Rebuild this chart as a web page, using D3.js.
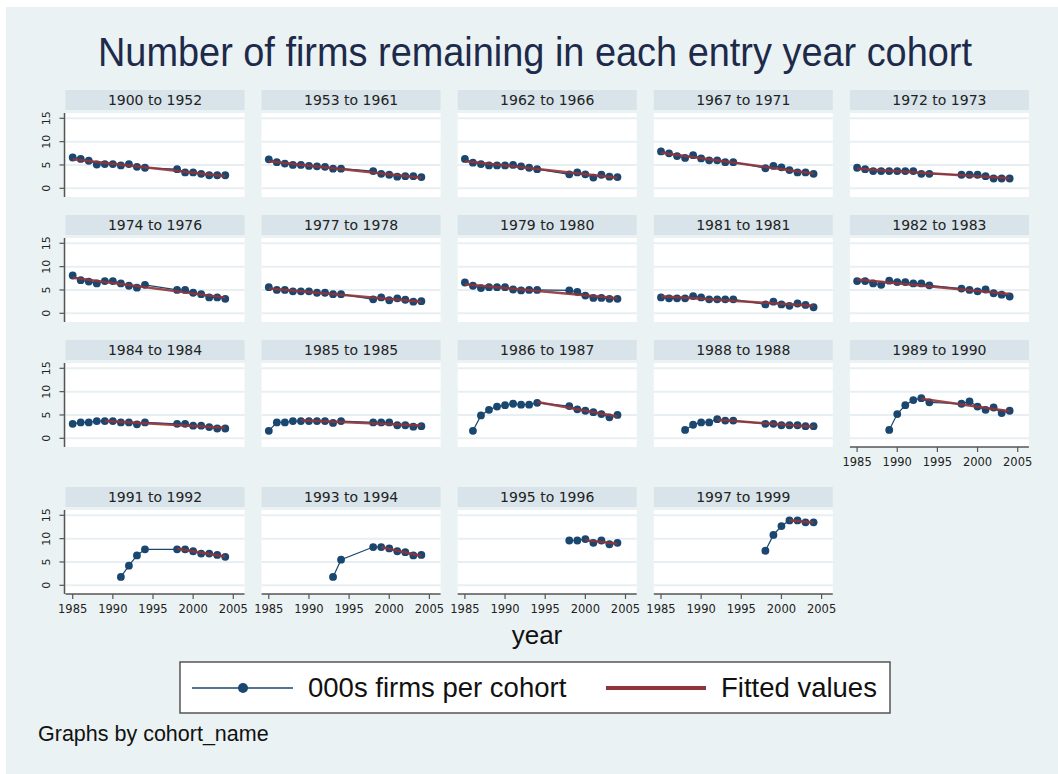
<!DOCTYPE html>
<meta charset="utf-8">
<style>
body { margin: 0; background: #fff; }
text { font-family: "Liberation Sans", Arial, sans-serif; }
.small { font-family: "DejaVu Sans", Verdana, sans-serif; }
</style>
<svg width="1058" height="774"></svg>
<script src="https://cdn.jsdelivr.net/npm/d3@7"></script>
<script>

// data (thousands of firms still alive)
var years = [1985, 1986, 1987, 1988, 1989, 1990, 1991, 1992, 1993, 1994,
             1998, 1999, 2000, 2001, 2002, 2003, 2004];

var cohorts = ["1900 to 1952", "1953 to 1961", "1962 to 1966", "1967 to 1971", "1972 to 1973",
               "1974 to 1976", "1977 to 1978", "1979 to 1980", "1981 to 1981", "1982 to 1983",
               "1984 to 1984", "1985 to 1985", "1986 to 1987", "1988 to 1988", "1989 to 1990",
               "1991 to 1992", "1993 to 1994", "1995 to 1996", "1997 to 1999"];

var N = null;
var firms = [
  [6.6, 6.3, 5.9, 5.1, 5.2, 5.2, 4.9, 5.2, 4.6, 4.4, 4.1, 3.4, 3.4, 3.1, 2.8, 2.8, 2.8],
  [6.2, 5.6, 5.3, 5.0, 5.0, 4.8, 4.7, 4.6, 4.2, 4.2, 3.7, 3.1, 2.9, 2.5, 2.6, 2.6, 2.4],
  [6.3, 5.5, 5.2, 4.9, 4.9, 4.9, 5.0, 4.7, 4.4, 4.1, 3.0, 3.4, 3.0, 2.3, 2.9, 2.5, 2.4],
  [7.9, 7.5, 6.9, 6.5, 7.1, 6.4, 6.0, 6.0, 5.6, 5.6, 4.3, 4.8, 4.5, 3.9, 3.4, 3.4, 3.1],
  [4.4, 4.1, 3.7, 3.7, 3.7, 3.7, 3.7, 3.7, 3.1, 3.1, 2.9, 2.9, 2.9, 2.6, 2.1, 2.1, 2.1],
  [8.1, 7.1, 6.8, 6.4, 6.9, 6.9, 6.4, 5.9, 5.5, 6.1, 5.0, 5.0, 4.4, 4.1, 3.4, 3.4, 3.1],
  [5.6, 5.0, 5.0, 4.7, 4.7, 4.7, 4.4, 4.4, 4.1, 4.1, 3.0, 3.4, 2.8, 3.2, 2.9, 2.5, 2.6],
  [6.6, 5.9, 5.4, 5.6, 5.6, 5.6, 5.1, 4.9, 5.0, 5.0, 4.9, 4.6, 3.8, 3.3, 3.3, 3.1, 3.1],
  [3.4, 3.2, 3.2, 3.2, 3.7, 3.4, 3.0, 3.0, 3.0, 3.0, 1.9, 2.5, 1.9, 1.6, 2.1, 1.8, 1.3],
  [6.9, 6.9, 6.4, 6.1, 7.0, 6.7, 6.7, 6.4, 6.4, 6.0, 5.3, 5.0, 4.7, 5.1, 4.3, 4.0, 3.6],
  [3.1, 3.4, 3.4, 3.7, 3.7, 3.7, 3.4, 3.4, 3.0, 3.4, 3.1, 3.1, 2.7, 2.7, 2.4, 2.1, 2.1],
  [1.6, 3.4, 3.4, 3.7, 3.7, 3.7, 3.7, 3.7, 3.3, 3.7, 3.4, 3.4, 3.4, 2.8, 2.8, 2.5, 2.6],
  [N, 1.6, 4.9, 6.1, 6.8, 7.1, 7.4, 7.2, 7.2, 7.6, 6.9, 6.2, 5.9, 5.6, 5.2, 4.5, 5.0],
  [N, N, N, 1.8, 2.9, 3.4, 3.4, 4.1, 3.8, 3.8, 3.1, 3.1, 2.8, 2.8, 2.8, 2.6, 2.6],
  [N, N, N, N, 1.8, 5.2, 7.1, 8.2, 8.6, 7.7, 7.4, 7.9, 6.8, 6.1, 6.6, 5.4, 5.9],
  [N, N, N, N, N, N, 1.8, 4.2, 6.4, 7.7, 7.7, 7.7, 7.3, 6.8, 6.8, 6.5, 6.1],
  [N, N, N, N, N, N, N, N, 1.8, 5.5, 8.2, 8.2, 7.9, 7.3, 7.1, 6.4, 6.5],
  [N, N, N, N, N, N, N, N, N, N, 9.6, 9.6, 9.9, 9.1, 9.6, 8.8, 9.1],
  [N, N, N, N, N, N, N, N, N, N, 7.4, 10.8, 12.7, 13.9, 13.9, 13.5, 13.5]
];

// first year used for the fitted line
var fitFrom = [1985, 1985, 1985, 1985, 1985, 1985, 1985, 1985, 1985, 1985,
               1989, 1989, 1994, 1992, 1993, 1998, 1999, 2000, 2001];

var yTicks = [0, 5, 10, 15];
var xTicks = [1985, 1990, 1995, 2000, 2005];

var navy = "#1a476f", maroon = "#90353b";

var svg = d3.select("svg");

svg.append("rect")
    .attr("x", 6).attr("y", 7)
    .attr("width", 1052).attr("height", 767)
    .attr("fill", "#eaf2f3");

svg.append("text")
    .attr("x", 535).attr("y", 66)
    .attr("text-anchor", "middle")
    .attr("font-size", 40)
    .attr("fill", "#1e2a4a")
    .attr("textLength", 874)
    .attr("lengthAdjust", "spacingAndGlyphs")
    .text("Number of firms remaining in each entry year cohort");

var rowTops = [90, 215, 340, 487];
var colW = 179, colStep = 196.1, left0 = 65.5;

function fit(xs, ys) {
  var mx = d3.mean(xs), my = d3.mean(ys);
  var sxy = d3.sum(xs, function(x, i) { return (x - mx) * (ys[i] - my); });
  var sxx = d3.sum(xs, function(x) { return (x - mx) * (x - mx); });
  var b = sxy / sxx;
  return function(x) { return my + b * (x - mx); };
}

cohorts.forEach(function(name, k) {
  var row = Math.floor(k / 5), col = k % 5;
  var left = left0 + col * colStep, top = rowTops[row];
  var g = svg.append("g");

  var x = d3.scaleLinear().domain([1985, 2005]).range([left + 7.2, left + 167.8]);
  var y = d3.scaleLinear().domain([0, 15]).range([top + 98.3, top + 28.3]);
  var plotTop = top + 23, plotBottom = top + 107;

  g.append("rect")
      .attr("x", left).attr("y", top)
      .attr("width", colW).attr("height", 20)
      .attr("fill", "#d8e4ea");
  g.append("text")
      .attr("class", "small")
      .attr("x", left + colW / 2).attr("y", top + 15)
      .attr("text-anchor", "middle")
      .attr("font-size", 14)
      .attr("fill", "#222")
      .text(name);

  g.append("rect")
      .attr("x", left).attr("y", plotTop)
      .attr("width", colW).attr("height", plotBottom - plotTop)
      .attr("fill", "#fff");

  g.selectAll(".grid")
    .data(yTicks)
    .enter().append("line")
      .attr("x1", left).attr("x2", left + colW)
      .attr("y1", function(d) { return y(d); })
      .attr("y2", function(d) { return y(d); })
      .attr("stroke", "#e8eff2")
      .attr("stroke-width", 2);

  var pts = years.map(function(yr, i) { return {year: yr, v: firms[k][i]}; })
      .filter(function(d) { return d.v !== null; });

  g.append("path")
      .datum(pts)
      .attr("fill", "none")
      .attr("stroke", navy)
      .attr("stroke-width", 1.2)
      .attr("d", d3.line().x(function(d) { return x(d.year); }).y(function(d) { return y(d.v); }));

  g.selectAll(".dot")
    .data(pts)
    .enter().append("circle")
      .attr("cx", function(d) { return x(d.year); })
      .attr("cy", function(d) { return y(d.v); })
      .attr("r", 3.9)
      .attr("fill", navy);

  var fp = pts.filter(function(d) { return d.year >= fitFrom[k]; });
  var f = fit(fp.map(function(d) { return d.year; }), fp.map(function(d) { return d.v; }));
  var x0 = fp[0].year, x1 = fp[fp.length - 1].year;
  g.append("line")
      .attr("x1", x(x0)).attr("y1", y(f(x0)))
      .attr("x2", x(x1)).attr("y2", y(f(x1)))
      .attr("stroke", maroon)
      .attr("stroke-width", 2.5)
      .attr("opacity", 0.9);

  if (col === 0) {
    g.append("line")
        .attr("x1", left - 1).attr("x2", left - 1)
        .attr("y1", plotTop).attr("y2", plotBottom)
        .attr("stroke", "#555").attr("stroke-width", 1.5);
    g.selectAll(".yt")
      .data(yTicks)
      .enter().append("line")
        .attr("x1", left - 6).attr("x2", left - 1)
        .attr("y1", function(d) { return y(d); })
        .attr("y2", function(d) { return y(d); })
        .attr("stroke", "#555").attr("stroke-width", 1.2);
    g.selectAll(".yl")
      .data(yTicks)
      .enter().append("text")
        .attr("class", "small")
        .attr("transform", function(d) { return "translate(" + (left - 16) + "," + y(d) + ") rotate(-90)"; })
        .attr("text-anchor", "middle")
        .attr("font-size", 11)
        .attr("fill", "#222")
        .text(function(d) { return d; });
  }

  if (row === 3 || k === 14) {
    g.append("line")
        .attr("x1", left).attr("x2", left + colW)
        .attr("y1", plotBottom).attr("y2", plotBottom)
        .attr("stroke", "#555").attr("stroke-width", 1.5);
    g.selectAll(".xt")
      .data(xTicks)
      .enter().append("line")
        .attr("x1", function(d) { return x(d); })
        .attr("x2", function(d) { return x(d); })
        .attr("y1", plotBottom).attr("y2", plotBottom + 5)
        .attr("stroke", "#555").attr("stroke-width", 1.2);
    g.selectAll(".xl")
      .data(xTicks)
      .enter().append("text")
        .attr("class", "small")
        .attr("x", function(d) { return x(d); })
        .attr("y", plotBottom + 19)
        .attr("text-anchor", "middle")
        .attr("font-size", 11.5)
        .attr("fill", "#222")
        .text(function(d) { return d; });
  }
});

svg.append("text")
    .attr("x", 537).attr("y", 644)
    .attr("text-anchor", "middle")
    .attr("font-size", 26)
    .attr("fill", "#111")
    .text("year");

// legend
var lg = svg.append("g");
lg.append("rect")
    .attr("x", 180).attr("y", 662)
    .attr("width", 710).attr("height", 51)
    .attr("fill", "#fff")
    .attr("stroke", "#555").attr("stroke-width", 1.5);
lg.append("line")
    .attr("x1", 192).attr("x2", 293).attr("y1", 688).attr("y2", 688)
    .attr("stroke", navy).attr("stroke-width", 1.5);
lg.append("circle")
    .attr("cx", 243).attr("cy", 688).attr("r", 5)
    .attr("fill", navy);
lg.append("text")
    .attr("x", 308).attr("y", 697)
    .attr("font-size", 27.5)
    .attr("fill", "#111")
    .text("000s firms per cohort");
lg.append("line")
    .attr("x1", 606).attr("x2", 706).attr("y1", 688).attr("y2", 688)
    .attr("stroke", maroon).attr("stroke-width", 4);
lg.append("text")
    .attr("x", 721).attr("y", 697)
    .attr("font-size", 27.5)
    .attr("fill", "#111")
    .text("Fitted values");

svg.append("text")
    .attr("x", 38).attr("y", 741)
    .attr("font-size", 21.5)
    .attr("fill", "#111")
    .text("Graphs by cohort_name");

</script>
